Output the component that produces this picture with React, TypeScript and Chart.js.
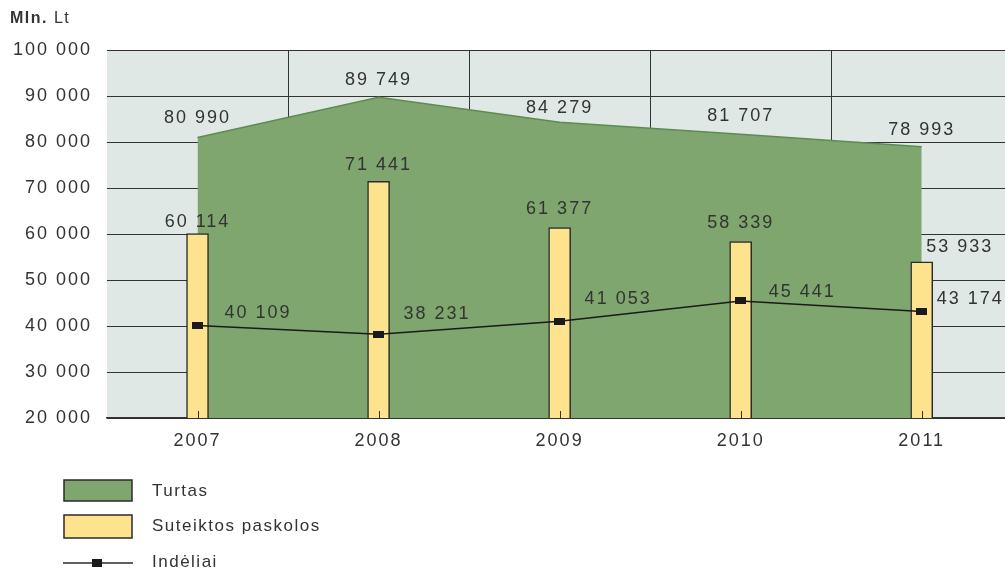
import React, { useEffect, useRef } from 'react';
import { Chart, registerables } from 'chart.js';

Chart.register(...registerables);

const years = [2007, 2008, 2009, 2010, 2011];
const turtas = [80990, 89749, 84279, 81707, 78993];
const paskolos = [60114, 71441, 61377, 58339, 53933];
const indeliai = [40109, 38231, 41053, 45441, 43174];
const seriesNames = ['Turtas', 'Suteiktos paskolos', 'Indėliai'];
const unitBold = 'Mln.';
const unitRest = ' Lt';

// label offsets (style, not data)
const turtasDy = [-19, -17, -14, -18, -17];
const paskolosDx = [0, 0, 0, 0, 38];
const paskolosDy = [-11, -16, -19, -19, -15];
const indeliaiDx = [27, 25, 25, 28, 15];
const indeliaiDy = [-12, -20, -22, -9, -12];

const FONT = "'Liberation Sans', Arial, Helvetica, sans-serif";
const TEXT = '#333333';
const GREEN = '#7ea66e';
const YELLOW = '#fee38e';
const BG = '#dfe8e4';
const GRID = '#333333';

const fmt = (v: number) => String(Math.round(v)).replace(/\B(?=(\d{3})+(?!\d))/g, ' ');

export default function App() {
  const ref = useRef<HTMLCanvasElement>(null);

  useEffect(() => {
    const canvas = ref.current!;
    const marker = document.createElement('canvas');
    marker.width = 11;
    marker.height = 7;
    const mctx = marker.getContext('2d')!;
    mctx.fillStyle = '#1a1a1a';
    mctx.fillRect(0, 0, 11, 7);

    const plugin = {
      id: 'custom',
      beforeDraw(chart: any) {
        const { ctx, chartArea: a } = chart;
        (ctx as any).letterSpacing = '2px';
        ctx.save();
        ctx.fillStyle = BG;
        ctx.fillRect(a.left, a.top, a.right - a.left, a.bottom - a.top);
        ctx.restore();
      },
      beforeDatasetsDraw(chart: any) {
        const { ctx, chartArea: a, scales } = chart;
        ctx.save();
        ctx.strokeStyle = GRID;
        ctx.lineWidth = 1;
        for (let i = 0; i < years.length - 1; i++) {
          const x = Math.round(scales.x.getPixelForValue(years[i] + 0.5)) + 0.5;
          ctx.beginPath();
          ctx.moveTo(x, a.top);
          ctx.lineTo(x, a.bottom);
          ctx.stroke();
        }
        ctx.restore();
      },
      afterDatasetsDraw(chart: any) {
        const { ctx, chartArea: a } = chart;
        ctx.save();
        (ctx as any).letterSpacing = '2px';
        ctx.strokeStyle = GRID;
        ctx.lineWidth = 1;
        const barMeta = chart.getDatasetMeta(1);
        barMeta.data.forEach((el: any) => {
          const x = Math.round(el.x) + 0.5;
          ctx.beginPath();
          ctx.moveTo(x, a.bottom);
          ctx.lineTo(x, a.bottom - 7);
          ctx.stroke();
        });
        ctx.font = `18px ${FONT}`;
        ctx.fillStyle = TEXT;
        ctx.textBaseline = 'middle';
        ctx.textAlign = 'center';
        chart.getDatasetMeta(0).data.forEach((el: any, i: number) => {
          ctx.fillText(fmt(turtas[i]), el.x, el.y + turtasDy[i]);
        });
        barMeta.data.forEach((el: any, i: number) => {
          ctx.fillText(fmt(paskolos[i]), el.x + paskolosDx[i], el.y + paskolosDy[i]);
        });
        ctx.textAlign = 'left';
        chart.getDatasetMeta(2).data.forEach((el: any, i: number) => {
          ctx.fillText(fmt(indeliai[i]), el.x + indeliaiDx[i], el.y + indeliaiDy[i]);
        });
        ctx.restore();
      },
      afterDraw(chart: any) {
        const { ctx } = chart;
        ctx.save();
        (ctx as any).letterSpacing = '1.5px';
        ctx.fillStyle = TEXT;
        ctx.textBaseline = 'middle';
        ctx.textAlign = 'left';
        ctx.font = `bold 16px ${FONT}`;
        ctx.fillText(unitBold, 10, 19);
        const w = ctx.measureText(unitBold).width;
        ctx.font = `16px ${FONT}`;
        ctx.fillText(unitRest, 10 + w, 19);

        ctx.lineWidth = 1.5;
        ctx.strokeStyle = '#2b2b2b';
        ctx.fillStyle = GREEN;
        ctx.fillRect(64, 480, 68, 21);
        ctx.strokeRect(64, 480, 68, 21);
        ctx.fillStyle = YELLOW;
        ctx.fillRect(64, 515, 68, 23);
        ctx.strokeRect(64, 515, 68, 23);
        ctx.beginPath();
        ctx.moveTo(63, 563);
        ctx.lineTo(133, 563);
        ctx.stroke();
        ctx.fillStyle = '#1a1a1a';
        ctx.fillRect(92, 559, 10, 8);
        ctx.fillStyle = TEXT;
        ctx.font = `17px ${FONT}`;
        ctx.fillText(seriesNames[0], 152, 491);
        ctx.fillText(seriesNames[1], 152, 526);
        ctx.fillText(seriesNames[2], 152, 562);
        ctx.restore();
      },
    };

    const chart = new Chart(canvas, {
      type: 'bar',
      data: {
        datasets: [
          {
            type: 'line',
            label: seriesNames[0],
            data: years.map((x, i) => ({ x, y: turtas[i] })),
            borderColor: '#5f8a52',
            borderWidth: 1.5,
            backgroundColor: GREEN,
            fill: 'start',
            pointRadius: 0,
            tension: 0,
            order: 3,
          } as any,
          {
            type: 'bar',
            label: seriesNames[1],
            data: years.map((x, i) => ({ x, y: paskolos[i] })),
            backgroundColor: YELLOW,
            borderColor: '#2b2b2b',
            borderWidth: 1.5,
            barThickness: 22,
            order: 2,
          } as any,
          {
            type: 'line',
            label: seriesNames[2],
            data: years.map((x, i) => ({ x, y: indeliai[i] })),
            borderColor: '#1a1a1a',
            borderWidth: 1.5,
            pointStyle: marker,
            pointRadius: 5,
            pointHoverRadius: 5,
            fill: false,
            tension: 0,
            order: 1,
          } as any,
        ],
      },
      options: {
        responsive: false,
        animation: false,
        devicePixelRatio: 1,
        layout: { autoPadding: false, padding: { top: 50, left: 0, right: 0, bottom: 0 } },
        plugins: { legend: { display: false }, tooltip: { enabled: false } },
        scales: {
          x: {
            type: 'linear',
            offset: false,
            min: 2006.5,
            max: 2011.46,
            afterBuildTicks: (s: any) => {
              s.ticks = years.map((v) => ({ value: v }));
            },
            afterFit: (s: any) => {
              s.height = 151;
              s.paddingLeft = 0;
              s.paddingRight = 0;
            },
            ticks: {
              callback: (v: any) => String(v),
              color: TEXT,
              font: { size: 18, family: FONT },
              padding: 12,
              autoSkip: false,
              maxRotation: 0,
            },
            grid: { display: false, drawTicks: false, offset: false },
            border: { display: true, color: GRID, width: 1.5 },
          },
          y: {
            type: 'linear',
            min: 20000,
            max: 100000,
            afterFit: (s: any) => {
              s.width = 107;
            },
            ticks: {
              stepSize: 10000,
              callback: (v: any) => fmt(Number(v)),
              color: TEXT,
              font: { size: 18, family: FONT },
              padding: 15,
            },
            grid: { color: GRID, lineWidth: 1, drawTicks: false },
            border: { display: false },
          },
        },
      } as any,
      plugins: [plugin],
    });
    return () => chart.destroy();
  }, []);

  return (
    <div style={{ position: 'absolute', left: 0, top: 0, width: 1005, height: 569, background: '#fff', overflow: 'hidden' }}>
      <canvas ref={ref} width={1005} height={569} style={{ display: 'block', width: 1005, height: 569 }} />
    </div>
  );
}
